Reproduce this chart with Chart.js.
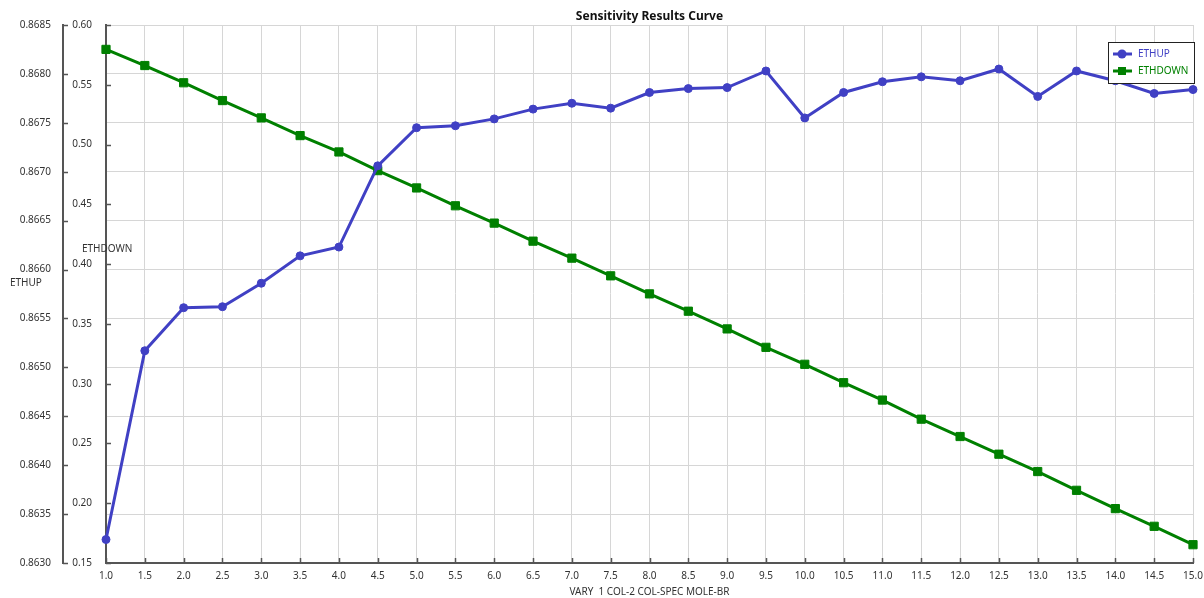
<!DOCTYPE html>
<html>
<head>
<meta charset="utf-8">
<title>Sensitivity Results Curve</title>
<script src="https://cdn.jsdelivr.net/npm/chart.js@4.4.1/dist/chart.umd.min.js"></script>
<style>
  html, body { margin: 0; padding: 0; background: #ffffff; }
  #wrap { width: 1204px; height: 598px; position: relative; }
</style>
</head>
<body>
<div id="wrap"><canvas id="chart"></canvas></div>
<script>
// Varied parameter (x axis categories)
const varyValues = ['1.0','1.5','2.0','2.5','3.0','3.5','4.0','4.5','5.0','5.5','6.0','6.5','7.0','7.5',
                    '8.0','8.5','9.0','9.5','10.0','10.5','11.0','11.5','12.0','12.5','13.0','13.5','14.0','14.5','15.0'];

// ETHUP results (outer left axis)
const ethUp = [0.86324, 0.86517, 0.86561, 0.86562, 0.86586, 0.86614, 0.86623, 0.86706, 0.86745, 0.86747,
               0.86754, 0.86764, 0.86770, 0.86765, 0.86781, 0.86785, 0.86786, 0.86803, 0.86755, 0.86781,
               0.86792, 0.86797, 0.86793, 0.86805, 0.86777, 0.86803, 0.86793, 0.86780, 0.86784];

// ETHDOWN results (inner left axis)
const ethDown = [0.5796, 0.5661, 0.5517, 0.5368, 0.5223, 0.5075, 0.4938, 0.4782, 0.4637, 0.4488,
                 0.4343, 0.4192, 0.4050, 0.3902, 0.3751, 0.3606, 0.3458, 0.3304, 0.3162, 0.3008,
                 0.2863, 0.2703, 0.2558, 0.2410, 0.2265, 0.2108, 0.1955, 0.1807, 0.1653];

// Axis tick values
const ethUpTicks = [0.8630, 0.8635, 0.8640, 0.8645, 0.8650, 0.8655, 0.8660, 0.8665, 0.8670, 0.8675, 0.8680, 0.8685];
const ethDownTicks = [0.15, 0.20, 0.25, 0.30, 0.35, 0.40, 0.45, 0.50, 0.55, 0.60];

const FONT = 'Noto Sans, "Open Sans", sans-serif';
const TEXT = '#333333';
const AXIS = '#555555';
const GRID = '#d6d6d6';
const BLUE = '#4040c4';
const GREEN = '#008000';

// Short tick marks pointing into the plot, plus the horizontal axis titles
const axisDecor = {
  id: 'axisDecor',
  afterDraw(chart) {
    const ctx = chart.ctx;
    const up = chart.scales.yUp, down = chart.scales.yDown, x = chart.scales.x;
    ctx.save();
    ctx.strokeStyle = AXIS;
    ctx.lineWidth = 1.5;
    ctx.beginPath();
    [up, down].forEach(s => {
      s.ticks.forEach(t => {
        const py = Math.round(s.getPixelForValue(t.value)) + 0.5;
        ctx.moveTo(s.right, py);
        ctx.lineTo(s.right + 5, py);
      });
    });
    x.ticks.forEach((t, i) => {
      const px = Math.round(x.getPixelForTick(i)) + 0.5;
      ctx.moveTo(px, x.top);
      ctx.lineTo(px, x.top - 5);
    });
    ctx.stroke();

    ctx.fillStyle = TEXT;
    ctx.font = '10px ' + FONT;
    ctx.textBaseline = 'middle';
    ctx.textAlign = 'left';
    const area = chart.chartArea;
    const h = area.bottom - area.top;
    ctx.fillText('ETHUP', up.left + 10, area.top + h * 0.479);
    ctx.fillText('ETHDOWN', down.left + 19, area.top + h * 0.417);
    ctx.restore();
  }
};

// Boxed legend in the upper right corner of the plot
const boxLegend = {
  id: 'boxLegend',
  afterDraw(chart) {
    const ctx = chart.ctx;
    const area = chart.chartArea;
    const w = 86, h = 41;
    const left = area.right + 1 - w, top = area.top + 17;
    ctx.save();
    ctx.fillStyle = '#ffffff';
    ctx.fillRect(left, top, w, h);
    ctx.strokeStyle = '#222222';
    ctx.lineWidth = 1;
    ctx.strokeRect(Math.round(left) + 0.5, Math.round(top) + 0.5, w, h);
    const rows = [
      { label: chart.data.datasets[0].label, color: BLUE, shape: 'circle', y: top + 12 },
      { label: chart.data.datasets[1].label, color: GREEN, shape: 'rect', y: top + 29 }
    ];
    ctx.font = '10px ' + FONT;
    ctx.textBaseline = 'middle';
    ctx.textAlign = 'left';
    rows.forEach(r => {
      ctx.strokeStyle = r.color;
      ctx.fillStyle = r.color;
      ctx.lineWidth = 3;
      ctx.beginPath();
      ctx.moveTo(left + 5, r.y);
      ctx.lineTo(left + 24, r.y);
      ctx.stroke();
      if (r.shape === 'circle') {
        ctx.beginPath();
        ctx.arc(left + 14, r.y, 4.5, 0, Math.PI * 2);
        ctx.fill();
      } else {
        ctx.fillRect(left + 10, r.y - 4, 8, 8);
      }
      ctx.fillText(r.label, left + 30, r.y);
    });
    ctx.restore();
  }
};

new Chart(document.getElementById('chart'), {
  type: 'line',
  data: {
    labels: varyValues,
    datasets: [
      {
        label: 'ETHUP',
        data: ethUp,
        yAxisID: 'yUp',
        borderColor: BLUE,
        backgroundColor: BLUE,
        borderWidth: 3,
        pointStyle: 'circle',
        pointRadius: 4,
        pointBackgroundColor: BLUE,
        pointBorderColor: BLUE,
        pointBorderWidth: 1,
        tension: 0
      },
      {
        label: 'ETHDOWN',
        data: ethDown,
        yAxisID: 'yDown',
        borderColor: GREEN,
        backgroundColor: GREEN,
        borderWidth: 3,
        pointStyle: 'rect',
        pointRadius: 5.8,
        pointBackgroundColor: GREEN,
        pointBorderColor: GREEN,
        pointBorderWidth: 1,
        tension: 0
      }
    ]
  },
  options: {
    responsive: true,
    maintainAspectRatio: false,
    animation: false,
    devicePixelRatio: 1,
    layout: { padding: { left: 0, right: 11, top: 0, bottom: 0 } },
    plugins: {
      legend: { display: false },
      tooltip: { enabled: false },
      title: {
        display: true,
        text: 'Sensitivity Results Curve',
        fullSize: false,
        color: '#111111',
        font: { family: FONT, size: 12, weight: 'bold' },
        padding: { top: 9, bottom: 1.6 }
      }
    },
    scales: {
      x: {
        type: 'category',
        offset: false,
        grid: { color: GRID, lineWidth: 1, drawTicks: false },
        border: { display: true, color: AXIS, width: 2 },
        ticks: { color: TEXT, font: { family: FONT, size: 10 }, padding: 7, maxRotation: 0, autoSkip: false },
        title: {
          display: true,
          text: 'VARY  1 COL-2 COL-SPEC MOLE-BR',
          color: TEXT,
          font: { family: FONT, size: 10 },
          padding: { top: 2, bottom: 0 }
        },
        afterFit(s) { s.height = 35; s.paddingLeft = 0; s.paddingRight = 0; }
      },
      yUp: {
        type: 'linear',
        position: 'left',
        weight: 2,
        min: ethUpTicks[0],
        max: ethUpTicks[ethUpTicks.length - 1],
        afterBuildTicks(s) { s.ticks = ethUpTicks.map(v => ({ value: v })); },
        grid: { color: GRID, lineWidth: 1, drawTicks: false },
        border: { display: true, color: AXIS, width: 2 },
        ticks: { color: TEXT, font: { family: FONT, size: 10 }, padding: 12, callback: v => Number(v).toFixed(4) },
        afterFit(s) { s.width = 63; }
      },
      yDown: {
        type: 'linear',
        position: 'left',
        weight: 1,
        min: ethDownTicks[0],
        max: ethDownTicks[ethDownTicks.length - 1],
        afterBuildTicks(s) { s.ticks = ethDownTicks.map(v => ({ value: v })); },
        grid: { drawOnChartArea: false, drawTicks: false },
        border: { display: true, color: AXIS, width: 2 },
        ticks: { color: TEXT, font: { family: FONT, size: 10 }, padding: 14, callback: v => Number(v).toFixed(2) },
        afterFit(s) { s.width = 43; }
      }
    }
  },
  plugins: [axisDecor, boxLegend]
});
</script>
</body>
</html>
